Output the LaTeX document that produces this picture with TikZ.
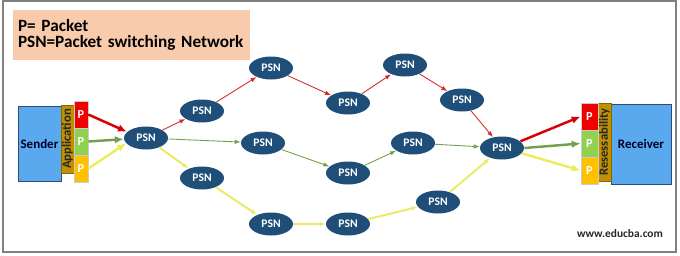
\documentclass[tikz,border=0pt]{standalone}
\usepackage{fontspec}
\setmainfont{Carlito}
\usetikzlibrary{arrows.meta,shapes.geometric}

\definecolor{azulpsn}{HTML}{1F4E79}
\definecolor{azulcaja}{HTML}{5AA9EE}
\definecolor{azulborde}{HTML}{2E4A78}
\definecolor{ocre}{HTML}{BF9000}
\definecolor{rojop}{HTML}{F00000}
\definecolor{verdep}{HTML}{92D050}
\definecolor{naranjap}{HTML}{FFC000}
\definecolor{salmon}{HTML}{F8CBAD}
\definecolor{rojof}{HTML}{D42A2A}
\definecolor{verdef}{HTML}{72A04E}
\definecolor{amarillof}{HTML}{EAEA66}

\begin{document}
\begin{tikzpicture}[x=0.02cm, y=-0.02cm,
		every node/.style={font=\bfseries},
		psn/.style={ellipse, fill=azulpsn, text=white, minimum width=0.88cm, minimum height=0.46cm,
			inner sep=0pt, font=\bfseries\fontsize{6.6}{7}\selectfont},
		caja/.style={draw=azulborde, fill=azulcaja, inner sep=0pt, font=\bfseries\fontsize{7.4}{8}\selectfont, text=black!85!blue},
		barra/.style={draw=ocre!70!black, fill=ocre, inner sep=0pt, rotate=90, font=\bfseries\fontsize{7.2}{8}\selectfont, text=black!85},
		paquete/.style={draw=white!60!gray, inner sep=0pt, text=white, font=\bfseries\fontsize{7}{8}\selectfont},
		fina/.style={-{Latex[length=1.2mm, width=0.9mm]}, line width=0.5pt},
		gruesa/.style={-{Latex[length=1.8mm, width=1.5mm]}, line width=1.4pt}]
	\useasboundingbox (0,0) rectangle (680,255);
	\draw[gray, line width=1pt] (3,1) rectangle (676,252);
	% leyenda
	\node[fill=salmon, minimum width=4.74cm, minimum height=1cm, text width=4.54cm, inner xsep=0.1cm,
		align=left, font=\bfseries\fontsize{9.8}{8}\selectfont] (ley) at (131.5,35)
		{P= Packet\\[1pt]PSN=Packet switching Network};
	% emisor
	\node[caja, minimum width=0.86cm, minimum height=1.5cm] (emisor) at (39.5,143.5) {Sender};
	\node[barra, minimum width=1.36cm, minimum height=0.26cm] (app) at (67.5,139) {Application};
	\node[paquete, fill=rojop, minimum width=0.28cm, minimum height=0.54cm] (sp1) at (81,114.5) {P};
	\node[paquete, fill=verdep, minimum width=0.28cm, minimum height=0.54cm] (sp2) at (81,141.5) {P};
	\node[paquete, fill=naranjap, minimum width=0.28cm, minimum height=0.54cm] (sp3) at (81,168.5) {P};
	% receptor
	\node[caja, minimum width=1.2cm, minimum height=1.6cm] (receptor) at (641,144) {Receiver};
	\node[barra, minimum width=1.56cm, minimum height=0.26cm] (res) at (604.5,142) {Resessability};
	\node[paquete, fill=rojop, minimum width=0.34cm, minimum height=0.54cm] (rp1) at (589.5,116.5) {P};
	\node[paquete, fill=verdep, minimum width=0.34cm, minimum height=0.54cm] (rp2) at (589.5,143.5) {P};
	\node[paquete, fill=naranjap, minimum width=0.34cm, minimum height=0.54cm] (rp3) at (589.5,170.5) {P};
	% red de conmutacion
	\node[psn] (S0) at (146,138) {PSN};
	\node[psn] (A1) at (202,111) {PSN};
	\node[psn] (A2) at (271,68)  {PSN};
	\node[psn] (A3) at (348,103) {PSN};
	\node[psn] (A4) at (405,65)  {PSN};
	\node[psn] (A5) at (462,100) {PSN};
	\node[psn] (B1) at (263,143) {PSN};
	\node[psn] (B2) at (348,173) {PSN};
	\node[psn] (B3) at (413,143) {PSN};
	\node[psn] (C1) at (202,178) {PSN};
	\node[psn] (C2) at (271,224) {PSN};
	\node[psn] (C3) at (348,224) {PSN};
	\node[psn] (C4) at (438,202) {PSN};
	\node[psn] (R)  at (502,148) {PSN};
	\node[font=\bfseries\fontsize{6.5}{7}\selectfont, text=black!85] (web) at (620,234) {www.educba.com};
	% entradas
	\draw[gruesa, rojop!90!black] (sp1.east) -- (S0.162);
	\draw[gruesa, verdef] (sp2.east) -- (S0.183);
	\draw[gruesa, amarillof!90!yellow] (sp3.east) -- (S0.195);
	% camino rojo
	\draw[fina, rojof] (S0) -- (A1);
	\draw[fina, rojof] (A1) -- (A2);
	\draw[fina, rojof] (A2) -- (A3);
	\draw[fina, rojof] (A3) -- (A4);
	\draw[fina, rojof] (A4) -- (A5);
	\draw[fina, rojof] (A5) -- (R);
	% camino verde
	\draw[fina, verdef] (S0) -- (B1);
	\draw[fina, verdef] (B1) -- (B2);
	\draw[fina, verdef] (B2) -- (B3);
	\draw[fina, verdef] (B3) -- (R);
	% camino amarillo
	\draw[fina, amarillof, line width=1.1pt] (S0) -- (C1);
	\draw[fina, amarillof, line width=1.1pt] (C1) -- (C2);
	\draw[fina, amarillof, line width=1.1pt] (C2) -- (C3);
	\draw[fina, amarillof, line width=1.1pt] (C3) -- (C4);
	\draw[fina, amarillof, line width=1.1pt] (C4) -- (R);
	% salidas
	\draw[gruesa, rojop!90!black] (R.20) -- (rp1.west);
	\draw[gruesa, verdef] (R.east) -- (rp2.west);
	\draw[gruesa, amarillof!90!yellow] (R.-15) -- (rp3.west);
\end{tikzpicture}
\end{document}
